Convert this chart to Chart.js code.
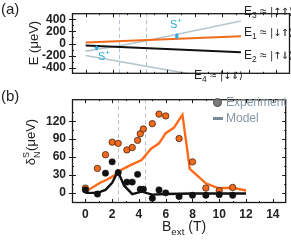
<!DOCTYPE html>
<html><head><meta charset="utf-8">
<script src="https://cdn.jsdelivr.net/npm/chart.js@4/dist/chart.umd.min.js"></script>
<style>
html,body{margin:0;padding:0;background:#fff;}
body{width:291px;height:241px;position:relative;overflow:hidden;font-family:"Liberation Sans",Arial,sans-serif;color:#222;}
canvas{position:absolute;left:0;}
#ca{top:0;} #cb{top:86px;}
.t{position:absolute;white-space:nowrap;line-height:1;}
.n{font-family:"Liberation Sans Narrow","Liberation Sans",Arial,sans-serif;}
.rot{width:80px;height:14px;text-align:center;transform:rotate(-90deg);transform-origin:40px 7px;}
sub,sup{font-size:70%;line-height:0;}
.k{font-family:"DejaVu Sans",sans-serif;font-size:10px;letter-spacing:-0.4px;}
.cy{color:#2aa9df;font-size:11px;}
.lg{color:#8595a3;font-size:12px;}
</style></head><body>
<canvas id="ca" width="291" height="87"></canvas>
<canvas id="cb" width="291" height="155"></canvas>

<div class="t" style="left:1px;top:1px;font-size:15px">(a)</div>
<div class="t" style="left:1px;top:88px;font-size:15px">(b)</div>
<div class="t rot" style="left:-6px;top:36px;font-size:13px">E (μeV)</div>
<div class="t rot" style="left:-9px;top:135px;font-size:13px">δ<span style="display:inline-block;position:relative;width:7px;height:10px;font-size:9px;vertical-align:middle"><span style="position:absolute;left:0;top:-5px">S</span><span style="position:absolute;left:0;top:6px">N</span></span>(μeV)</div>
<div class="t" style="left:162px;top:219px;font-size:14px">B<sub>ext</sub> (T)</div>

<div class="t n" style="left:244px;top:5px;font-size:12px">E<sub>3</sub> ≈ <span class="k">|↑⇑⟩</span></div>
<div class="t n" style="left:244px;top:26px;font-size:12px">E<sub>1</sub> ≈ <span class="k">|↓⇑⟩</span></div>
<div class="t n" style="left:244px;top:49px;font-size:12px">E<sub>2</sub> ≈ <span class="k">|↑⇓⟩</span></div>
<div class="t n" style="left:194px;top:69px;font-size:12px">E<sub>4</sub> ≈ <span class="k">|↓⇓⟩</span></div>
<div class="t cy" style="left:98px;top:51px">S<sup>+</sup></div>
<div class="t cy" style="left:170px;top:19px">S<sup>+</sup></div>

<div style="position:absolute;left:213px;top:98px;width:7px;height:7px;border-radius:50%;background:#7a7a7a;border:1px solid #444;"></div>
<div class="t n lg" style="left:226px;top:96px">Experiment</div>
<div style="position:absolute;left:213px;top:117px;width:10px;height:3px;background:#7b8b98;"></div>
<div class="t n lg" style="left:226px;top:112px">Model</div>

<script>
// ---------- data ----------
const xMin = -1, xMax = 15;
const xTicks = [0, 2, 4, 6, 8, 10, 12, 14];
const xMinor = [1, 3, 5, 7, 9, 11, 13];
const vLines = [2.43, 4.45];

// panel (a): energy levels
const yTicksA = [-400, -200, 0, 200, 400];
const yMinorA = [-300, -100, 100, 300];
const levelX = [0, 11.4];
const E1 = [15, 120];
const E2 = [-35, -145];
const E3X = [0, 2.4, 4.45, 11.4];
const E3 = [-126, -40, 44, 372];
const E4X = [0, 7.6];
const E4 = [-197, -500];
// S+ transition arrows: x, from, to
const arrowX = [0.8, 6.69];
const arrowFrom = [-30, 175];
const arrowTo = [-118, 68];

// panel (b): experiment and model
const yTicksB = [0, 30, 60, 90, 120];
const yMinorB = [15, 45, 75, 105, 135];
const expX = [0, 0.9, 1.5, 2.0, 2.45, 3.1, 3.5, 3.9, 4.1, 4.33, 5, 5.5, 6, 7, 8, 9, 10, 11];
const expOrange = [8, 41, 64, 85, 83, 72, 76, 88, 99, 107, 116, 132, 129, 91, 52, 8, 4, 9];
const expBlack = [5, -2, 33, 52, 34, 18, 18, 31, 6, 6, -9, 5, 0, -6, -4, -4, -3, -4];
const modelOX = [0, 1.1, 1.6, 2.2, 2.45, 3.4, 4.2, 4.9, 5.5, 6.0, 6.6, 7.25, 7.8, 9.0, 9.9, 11.0, 12.0];
const modelO = [2, 17, 22, 30, 36, 47, 55, 74, 83, 100, 109, 131, 40, 16, 8, 8.5, 4];
const modelBX = [0, 0.6, 1.0, 1.5, 2.0, 2.42, 2.9, 3.5, 4.2, 5.0, 6.0, 8.0, 12.0];
const modelB = [0, 0, 1, 5, 17, 36, 12, -2, 2, -3, -2, -1, -1];

const pts = (xs, ys) => xs.map((x, i) => ({x, y: ys[i]}));

// ---------- plugins ----------
const frameTicks = {
  id: 'frameTicks',
  afterDraw(chart, args, o) {
    const {ctx, chartArea: a, scales} = chart;
    const xs = scales.x, ys = scales.y;
    ctx.save();
    ctx.strokeStyle = '#1a1a1a';
    ctx.lineWidth = 1;
    ctx.beginPath();
    const tx = (vals, len) => vals.forEach(v => {
      const p = Math.round(xs.getPixelForValue(v)) + 0.5;
      if (o.bottom) { ctx.moveTo(p, a.bottom); ctx.lineTo(p, a.bottom - len); }
      if (o.top) { ctx.moveTo(p, a.top); ctx.lineTo(p, a.top + len); }
    });
    const ty = (vals, len, out) => vals.forEach(v => {
      const p = Math.round(ys.getPixelForValue(v)) + 0.5;
      ctx.moveTo(a.left - out, p); ctx.lineTo(a.left + len, p);
      if (o.right) { ctx.moveTo(a.right, p); ctx.lineTo(a.right - len, p); }
    });
    tx(o.xMajor, 4); tx(o.xMinor, 2);
    ty(o.yMajor, 4, 3); ty(o.yMinor, 2, 0);
    ctx.stroke();
    ctx.lineWidth = 1.3;
    ctx.strokeRect(a.left + 0.5, a.top + 0.5, a.right - a.left - 1, a.bottom - a.top - 1);
    ctx.restore();
  }
};
const dashed = {
  id: 'dashed',
  beforeDatasetsDraw(chart) {
    const {ctx, chartArea: a, scales} = chart;
    ctx.save();
    ctx.strokeStyle = '#b3c5cf';
    ctx.lineWidth = 1;
    ctx.setLineDash([4, 3]);
    vLines.forEach(v => {
      const p = Math.round(scales.x.getPixelForValue(v)) + 0.5;
      ctx.beginPath(); ctx.moveTo(p, a.top); ctx.lineTo(p, a.bottom); ctx.stroke();
    });
    ctx.restore();
  }
};
const arrows = {
  id: 'arrows',
  afterDatasetsDraw(chart) {
    const {ctx, scales} = chart;
    ctx.save();
    ctx.strokeStyle = '#2aa9df'; ctx.fillStyle = '#2aa9df'; ctx.lineWidth = 1.5;
    arrowX.forEach((x, i) => {
      const px = scales.x.getPixelForValue(x);
      const y1 = scales.y.getPixelForValue(arrowFrom[i]);
      const y2 = scales.y.getPixelForValue(arrowTo[i]);
      ctx.beginPath(); ctx.moveTo(px, y1 + 1); ctx.lineTo(px, y2 - 1); ctx.stroke();
      [[y1, 1, 2.5], [y2, -1, 3.5]].forEach(([y, d, h]) => {
        ctx.beginPath(); ctx.moveTo(px, y); ctx.lineTo(px - 2.2, y + h * d); ctx.lineTo(px + 2.2, y + h * d); ctx.closePath(); ctx.fill();
      });
    });
    ctx.restore();
  }
};

const tickFontY = {family: '"Liberation Sans Narrow","Liberation Sans",Arial', size: 12, weight: 'bold'};
const tickFontX = {family: '"Liberation Sans","Arial"', size: 12, weight: 'bold'};

function lineDs(data, color, w) {
  return {type: 'line', data, borderColor: color, borderWidth: w, pointRadius: 0, tension: 0, fill: false};
}

// ---------- panel (a) ----------
new Chart(document.getElementById('ca'), {
  type: 'line',
  data: {datasets: [
    lineDs(pts(levelX, E1), '#f26a1b', 2),
    lineDs(pts(levelX, E2), '#111111', 2),
    lineDs(pts(E3X, E3), '#b4c6cc', 1.6),
    lineDs(pts(E4X, E4), '#b4c6cc', 1.6)
  ]},
  options: {
    responsive: false, animation: false, devicePixelRatio: 1,
    layout: {padding: {left: 0, right: 1, top: 0, bottom: 0}},
    plugins: {legend: {display: false}, tooltip: {enabled: false},
      frameTicks: {xMajor: xTicks, xMinor, yMajor: yTicksA, yMinor: yMinorA, bottom: true, top: true, right: false}},
    scales: {
      x: {type: 'linear', min: xMin, max: xMax, grid: {display: false}, border: {display: false},
          ticks: {display: false}, afterFit(s) { s.height = 0; }},
      y: {type: 'linear', min: -500, max: 500, grid: {display: false, drawTicks: false}, border: {display: false},
          afterBuildTicks(s) { s.ticks = yTicksA.map(v => ({value: v})); },
          ticks: {color: '#222', font: tickFontY, padding: 6, autoSkip: false},
          afterFit(s) { s.width = 72; }}
    }
  },
  plugins: [frameTicks, dashed, arrows]
});

// ---------- panel (b) ----------
new Chart(document.getElementById('cb'), {
  type: 'scatter',
  data: {datasets: [
    {type: 'scatter', data: pts(expX, expBlack), backgroundColor: '#111', borderColor: '#111', borderWidth: 0.5, pointRadius: 3.2},
    {type: 'scatter', data: pts(expX, expOrange), backgroundColor: '#f26a1b', borderColor: '#4a2410', borderWidth: 0.8, pointRadius: 3.2},
    lineDs(pts(modelBX, modelB), '#111111', 2.4),
    lineDs(pts(modelOX, modelO), '#ff6a1a', 2.4)
  ]},
  options: {
    responsive: false, animation: false, devicePixelRatio: 1,
    layout: {padding: {left: 0, right: 1, top: 0, bottom: 0}},
    plugins: {legend: {display: false}, tooltip: {enabled: false},
      frameTicks: {xMajor: xTicks, xMinor, yMajor: yTicksB, yMinor: yMinorB, bottom: true, top: true, right: true}},
    scales: {
      x: {type: 'linear', min: xMin, max: xMax, grid: {display: false, drawTicks: false}, border: {display: false},
          afterBuildTicks(s) { s.ticks = xTicks.map(v => ({value: v})); },
          ticks: {color: '#222', font: tickFontX, padding: 4, autoSkip: false, maxRotation: 0},
          afterFit(s) { s.height = 38; }},
      y: {type: 'linear', min: -17, max: 157, grid: {display: false, drawTicks: false}, border: {display: false},
          afterBuildTicks(s) { s.ticks = yTicksB.map(v => ({value: v})); },
          ticks: {color: '#222', font: tickFontY, padding: 6, autoSkip: false},
          afterFit(s) { s.width = 72; }}
    }
  },
  plugins: [frameTicks, dashed]
});
</script>
</body></html>
